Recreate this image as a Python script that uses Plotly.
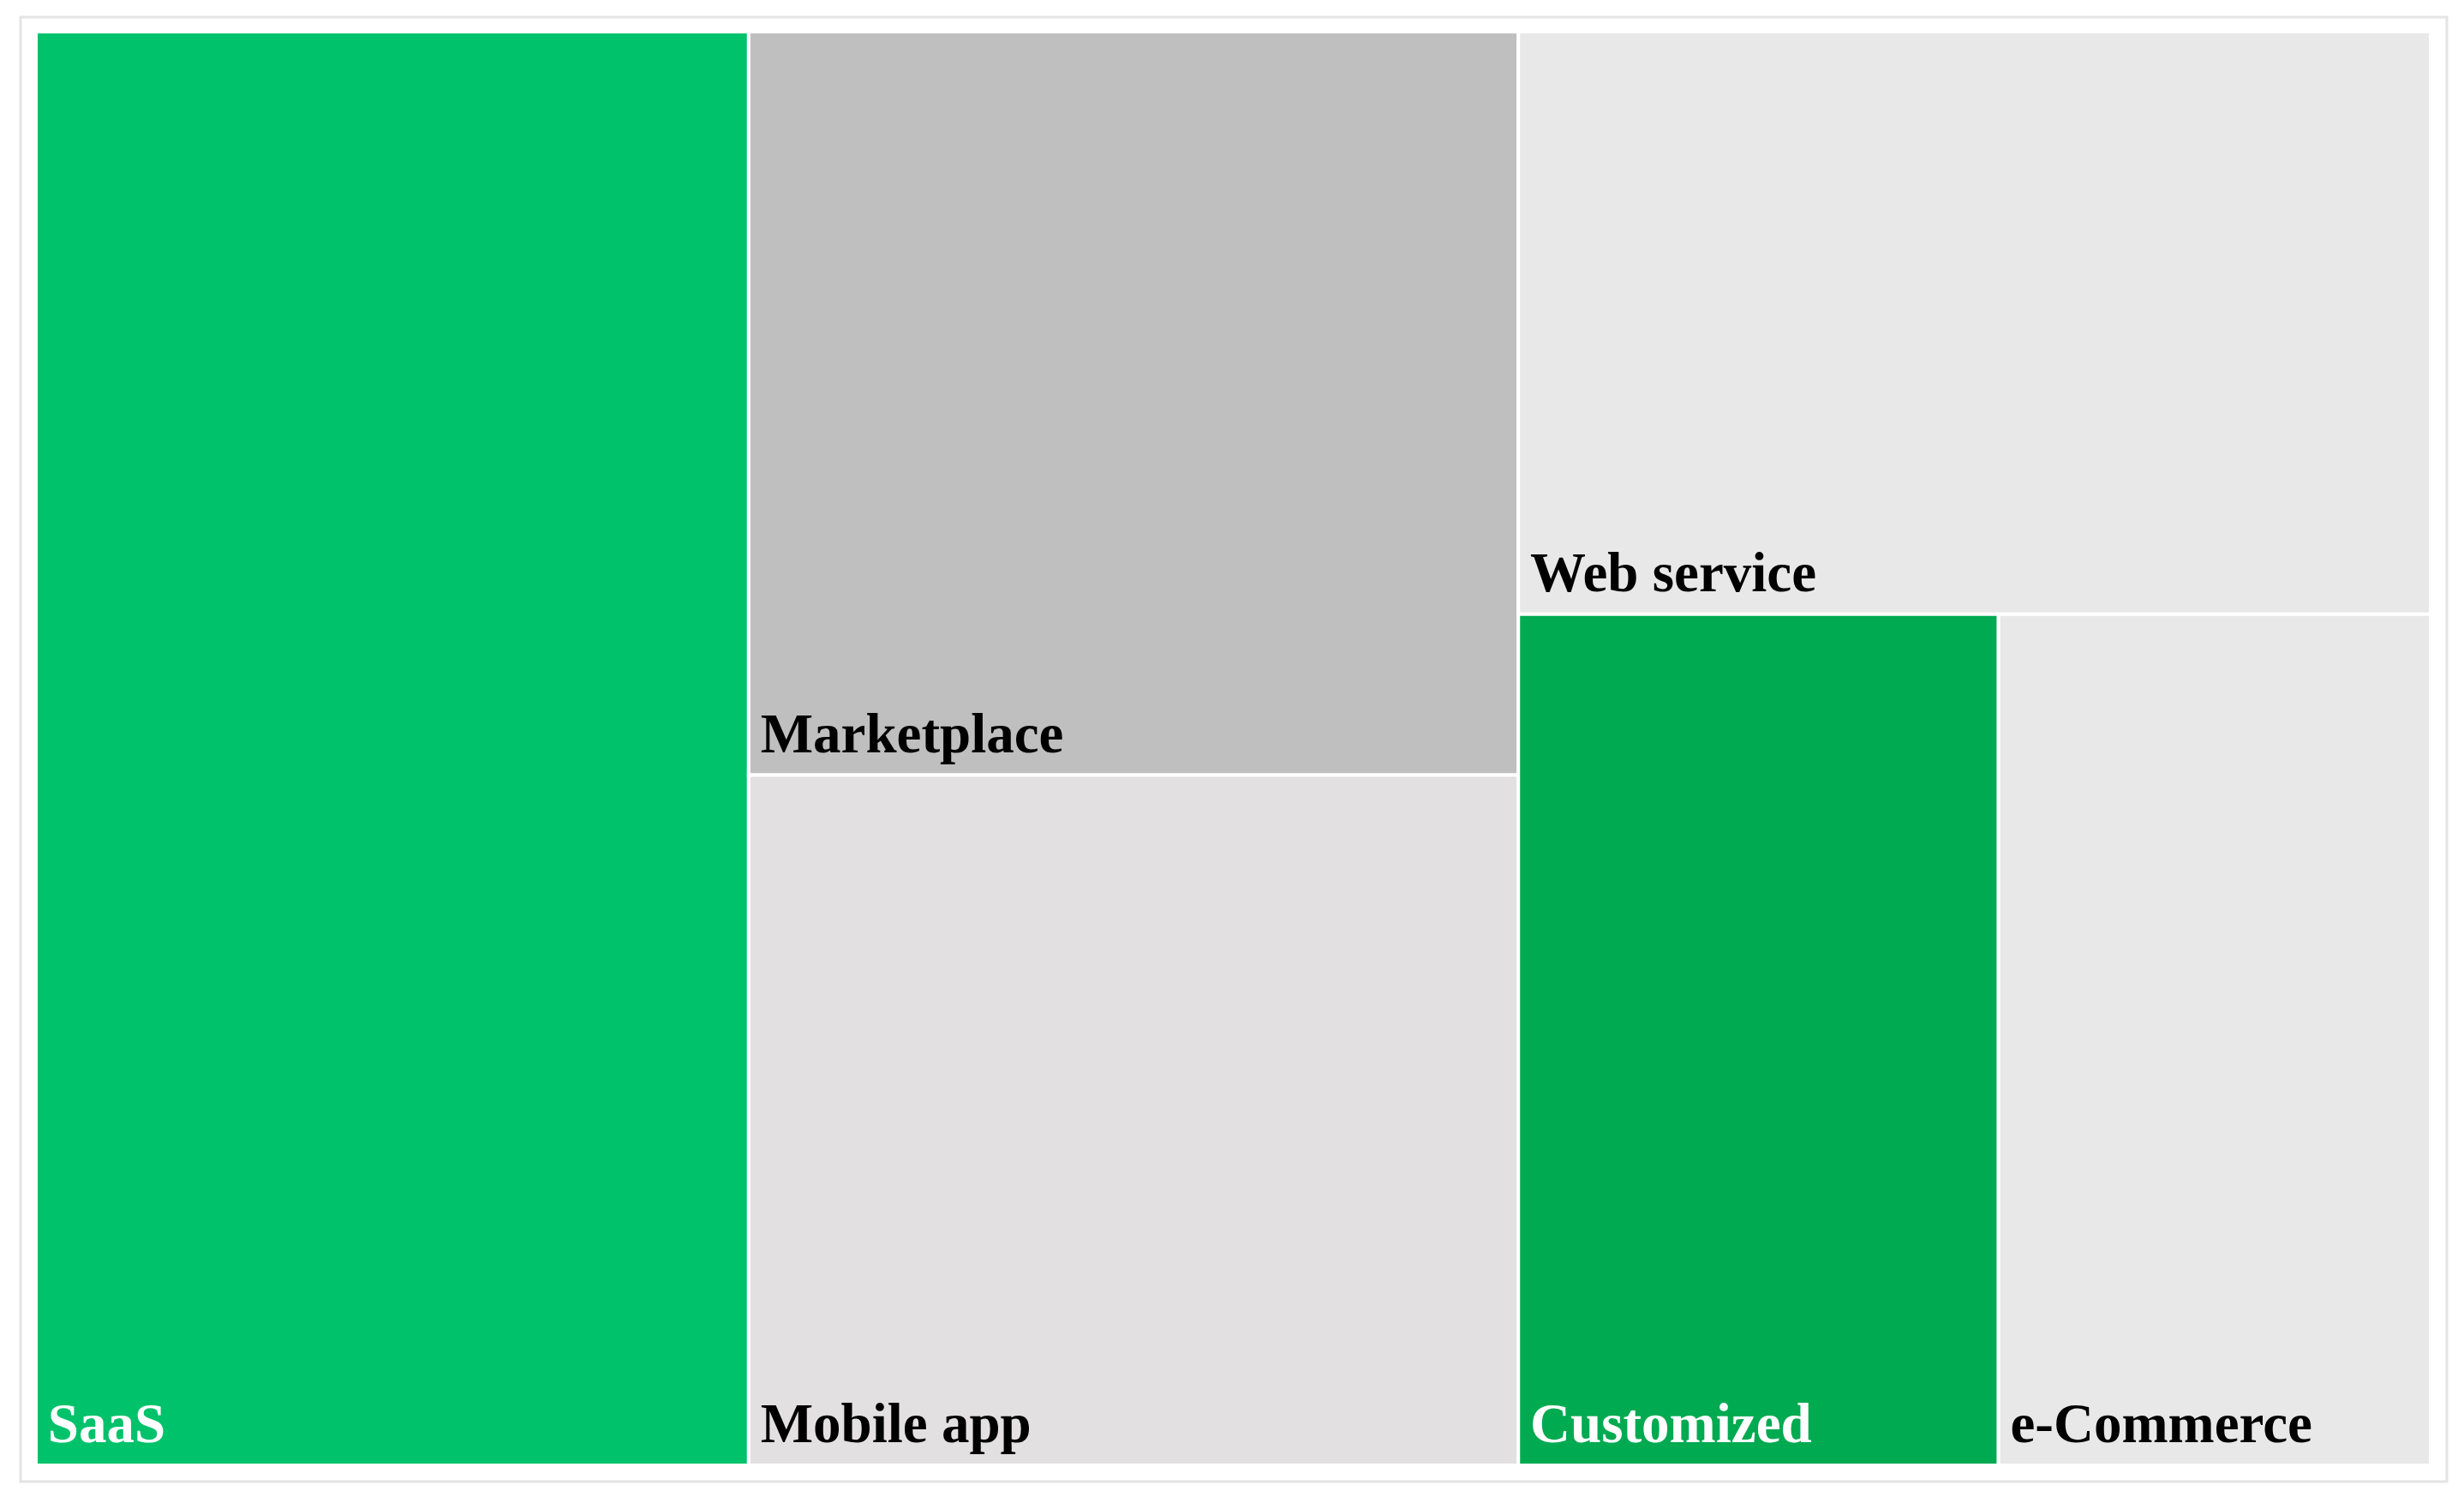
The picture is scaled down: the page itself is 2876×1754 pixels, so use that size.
import plotly.graph_objects as go

labels = ["SaaS", "Marketplace", "Mobile app", "Web service", "Customized", "e-Commerce"]
parents = ["", "", "", "", "", ""]
values = [25, 14, 13, 13, 10, 9]
colors = ["#00C26A", "#BFBFBF", "#E3E0E1", "#E8E8E8", "#00AA50", "#E8E8E8"]
text_colors = ["#FFFFFF", "#000000", "#000000", "#000000", "#FFFFFF", "#000000"]

W, H = 2868, 1746   # page body has an 8px default margin
off = 8
ml, mt, mr, mb = 34, 29, 39, 44

fig = go.Figure(go.Treemap(
    labels=labels,
    parents=parents,
    values=values,
    sort=True,
    marker=dict(colors=colors, line=dict(color="#FFFFFF", width=4),
                pad=dict(t=0, l=0, r=0, b=0)),
    texttemplate="<span style='font-size:65px'>\u200a\u200a%{label}</span><br>\u00a0",
    textposition="bottom left",
    textfont=dict(family="Liberation Serif", size=16, color=text_colors, weight="bold"),
    tiling=dict(packing="squarify", squarifyratio=1, pad=0),
    pathbar=dict(visible=False),
    hoverinfo="label+value",
))

pw = W - ml - mr
ph = H - mt - mb
fx0, fx1, fy0, fy1 = 24 - off, 2856 - off, 20 - off, 1729 - off
fig.add_shape(
    type="rect", xref="paper", yref="paper",
    x0=(fx0 - ml) / pw, x1=(fx1 - ml) / pw,
    y0=1 - (fy1 - mt) / ph, y1=1 - (fy0 - mt) / ph,
    line=dict(color="#E4E4E4", width=3), fillcolor="rgba(0,0,0,0)", layer="below",
)

fig.update_layout(
    width=W, height=H,
    margin=dict(l=ml, r=mr, t=mt, b=mb),
    paper_bgcolor="#FFFFFF",
    plot_bgcolor="#FFFFFF",
    showlegend=False,
)

fig.write_html("out.html")
